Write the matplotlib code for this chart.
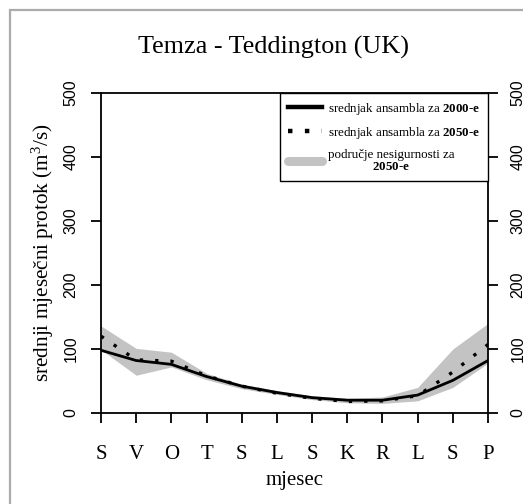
import matplotlib
matplotlib.use("Agg")
import matplotlib.pyplot as plt
from matplotlib.lines import Line2D
from matplotlib.patches import Rectangle
import numpy as np

months = ["S", "V", "O", "T", "S", "L", "S", "K", "R", "L", "S", "P"]
mean_2000 = [98, 82, 76, 57, 42, 32, 24, 20, 20, 28, 51, 82]
mean_2050 = [120, 83, 81, 58, 42, 31, 23, 18, 19, 27, 64, 107]
band_upper = [136, 101, 95, 62, 45, 35, 27, 23, 25, 40, 100, 140]
band_lower = [99, 59, 72, 52, 38, 29, 21, 16, 15, 19, 40, 78]
yticks = [0, 100, 200, 300, 400, 500]

plt.rcParams['mathtext.fontset'] = 'custom'
plt.rcParams['mathtext.rm'] = 'Liberation Serif'
plt.rcParams['mathtext.bf'] = 'Liberation Serif:bold'
plt.rcParams['mathtext.it'] = 'Liberation Serif:italic'

W, H = 523, 504
fig = plt.figure(figsize=(W / 100, H / 100), dpi=100)

# outer frame
fig.patches.append(Rectangle((10 / W, -0.1), 1.2, (H - 10) / H + 0.1,
                             transform=fig.transFigure, fill=False,
                             edgecolor="#ababab", linewidth=1.6))

ax = fig.add_axes([101 / W, (H - 413) / H, 387 / W, 320 / H])
x = np.arange(1, 13)

ax.fill_between(x, band_lower, band_upper, color="#c3c3c3", linewidth=0, zorder=1)
ax.plot(x, mean_2000, color="black", linewidth=2.0, zorder=3)
ax.plot(x, mean_2050, color="black", linewidth=2.4, linestyle=(0, (1.0, 3.6)),
        dash_capstyle="butt", zorder=4)

ax.set_xlim(1, 12)
ax.set_ylim(0, 500)
ax.set_xticks(x)
ax.set_xticklabels(months, fontfamily="Liberation Serif", fontsize=15)
ax.set_yticks(yticks)
ax.set_yticklabels([str(v) for v in yticks], fontfamily="Liberation Sans",
                   fontsize=11.5, rotation=90, va="center")
ax.tick_params(axis="x", direction="out", length=7.3, width=1.3, pad=16)
ax.tick_params(axis="y", direction="out", length=7.3, width=1.3, pad=9,
               left=True, right=True, labelleft=True, labelright=True)
for lbl in ax.get_yticklabels(which="both"):
    lbl.set_rotation(90)
for s in ax.spines.values():
    s.set_linewidth(1.3)

ax.set_xlabel("mjesec", fontfamily="Liberation Serif", fontsize=15, labelpad=5)
ax.set_ylabel("srednji mjesečni protok (m$^3$/s)", fontfamily="Liberation Serif",
              fontsize=15.3, labelpad=5)

fig.text(273 / W, 1 - 47 / H, "Temza - Teddington (UK)", ha="center", va="center",
         fontfamily="Liberation Serif", fontsize=18.8)

handles = [
    Line2D([], [], color="black", linewidth=3.2),
    Line2D([], [], color="black", linewidth=3.2, linestyle=(0, (1.0, 2.8)),
           dash_capstyle="butt"),
    Line2D([], [], color="#c3c3c3", linewidth=6.5, solid_capstyle="round"),
]
labels = [
    r"srednjak ansambla za $\mathbf{2000}$-$\mathbf{e}$",
    r"srednjak ansambla za $\mathbf{2050}$-$\mathbf{e}$",
    "područje nesigurnosti za\n" + r"$\mathbf{2050}$-$\mathbf{e}$",
]
leg = ax.legend(handles, labels, loc="upper right", bbox_to_anchor=(1.0, 1.0),
                prop={"family": "Liberation Serif", "size": 9.4},
                frameon=True, fancybox=False, edgecolor="black", framealpha=1,
                handlelength=2.6, handletextpad=0.45, borderpad=0.6,
                labelspacing=0.62, borderaxespad=0)
leg.get_frame().set_linewidth(1.0)
leg.get_texts()[2].set_multialignment("center")
leg.get_texts()[2].set_linespacing(1.0)

fig.savefig("out.png", dpi=100)
